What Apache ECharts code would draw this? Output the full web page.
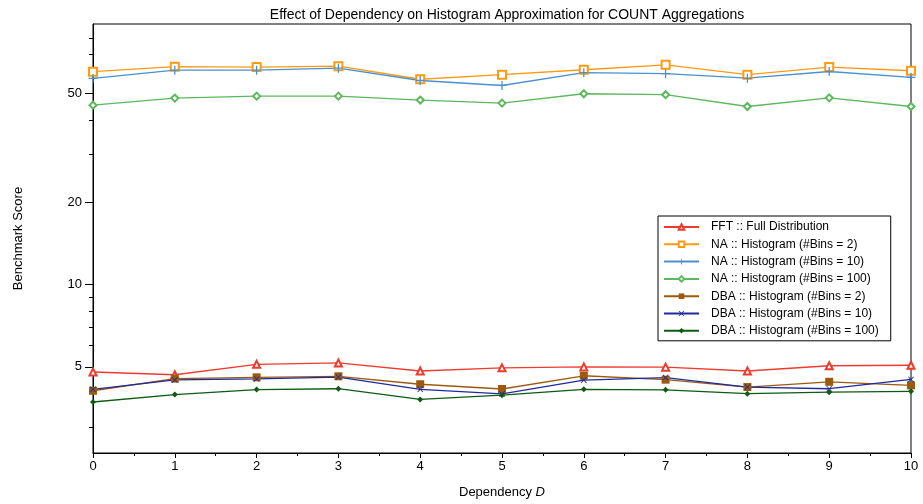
<!DOCTYPE html>
<html>
<head>
<meta charset="utf-8">
<script src="https://cdn.jsdelivr.net/npm/echarts@6/dist/echarts.min.js"></script>
<style>
html,body{margin:0;padding:0;background:#fff;}
#chart{width:923px;height:504px;}
</style>
</head>
<body>
<div id="chart"></div>
<script>
const dependency = [0,1,2,3,4,5,6,7,8,9,10];
const seriesNames = [
  'FFT :: Full Distribution',
  'NA :: Histogram (#Bins = 2)',
  'NA :: Histogram (#Bins = 10)',
  'NA :: Histogram (#Bins = 100)',
  'DBA :: Histogram (#Bins = 2)',
  'DBA :: Histogram (#Bins = 10)',
  'DBA :: Histogram (#Bins = 100)'
];
const fftFull   = [4.79,4.68,5.11,5.17,4.83,4.96,5.00,4.99,4.83,5.05,5.07];
const naBins2   = [60.2,62.8,62.6,63.1,56.5,58.7,61.2,63.8,58.7,62.6,60.7];
const naBins10  = [56.9,61.0,61.0,62.0,55.9,53.6,59.7,59.2,57.0,60.3,57.4];
const naBins100 = [45.4,48.2,49.0,49.0,47.4,46.2,50.0,49.6,44.9,48.3,44.9];
const dbaBins2  = [4.09,4.53,4.58,4.62,4.32,4.15,4.64,4.49,4.22,4.41,4.28];
const dbaBins10 = [4.14,4.48,4.52,4.59,4.14,3.98,4.47,4.57,4.22,4.16,4.50];
const dbaBins100= [3.72,3.96,4.13,4.16,3.80,3.94,4.14,4.12,3.99,4.04,4.07];
const yMajorTicks = [5,10,20,50];
const yMinorTicks = [3,4,6,7,8,9,30,40,60,70,80];

const values = [fftFull,naBins2,naBins10,naBins100,dbaBins2,dbaBins10,dbaBins100];
const colors = ['#ee3b2e','#ff9a12','#4a90cf','#5cb85c','#9c5a0e','#1f2a9c','#0d5a12'];
const plus = 'path://M-1,-0.14 L-0.14,-0.14 L-0.14,-1 L0.14,-1 L0.14,-0.14 L1,-0.14 L1,0.14 L0.14,0.14 L0.14,1 L-0.14,1 L-0.14,0.14 L-1,0.14 Z';
const cross = 'path://M-0.8,-1 L0,-0.2 L0.8,-1 L1,-0.8 L0.2,0 L1,0.8 L0.8,1 L0,0.2 L-0.8,1 L-1,0.8 L-0.2,0 L-1,-0.8 Z';
const symbols = ['emptyTriangle','emptyRect',plus,'emptyDiamond','rect',cross,'diamond'];
const sizes = [7,8,9,7,8,6,6];

const font = 'Liberation Sans, Arial, Helvetica, sans-serif';
const chart = echarts.init(document.getElementById('chart'));

const series = seriesNames.map((n,i)=>({
  name:n,
  type:'line',
  yAxisIndex:0,
  data: dependency.map((x,j)=>[x,values[i][j]]),
  symbol: symbols[i],
  symbolSize: sizes[i],
  showAllSymbol:true,
  lineStyle:{color:colors[i],width:1.3},
  itemStyle:{color:colors[i],borderWidth:1.2},
  emphasis:{disabled:true},
  animation:false
}));

chart.setOption({
  animation:false,
  backgroundColor:'#fff',
  title:{
    text:'Effect of Dependency on Histogram Approximation for COUNT Aggregations',
    left:502, top:3, textAlign:'center',
    textStyle:{fontFamily:font,fontSize:14,fontWeight:'normal',color:'#000'}
  },
  legend:{
    orient:'vertical',
    left:658, top:216,
    padding:[5,12,4,5],
    borderColor:'#000', borderWidth:1,
    backgroundColor:'#fff',
    itemWidth:35, itemHeight:7, itemGap:5.3,
    textStyle:{fontFamily:font,fontSize:12,color:'#000',padding:[0,0,0,7]},
    data:seriesNames
  },
  grid:{left:93,right:12,top:24,bottom:50,show:true,borderColor:'#000',borderWidth:1,containLabel:false},
  xAxis:{
    type:'value', min:0, max:10, interval:1,
    name:'Dependency {i|D}', nameLocation:'middle', nameGap:33,
    nameTextStyle:{fontFamily:font,fontSize:13,color:'#000',rich:{i:{fontStyle:'italic',fontFamily:font,fontSize:13,color:'#000'}}},
    axisLine:{lineStyle:{color:'#000',width:1}},
    axisTick:{show:true,inside:false,length:5,lineStyle:{color:'#000'}},
    minorTick:{show:true,splitNumber:2,length:3,lineStyle:{color:'#000'}},
    axisLabel:{fontFamily:font,fontSize:13,color:'#000',margin:7},
    splitLine:{show:false}
  },
  yAxis:[{
    type:'log', min:2.42, max:90, logBase:10,
    name:'Benchmark Score', nameLocation:'middle', nameGap:68,
    nameTextStyle:{fontFamily:font,fontSize:13,color:'#000'},
    axisLine:{show:true,lineStyle:{color:'#000',width:1}},
    axisTick:{show:true,length:8,customValues:yMajorTicks,lineStyle:{color:'#000'}},
    axisLabel:{fontFamily:font,fontSize:13,color:'#000',margin:11,customValues:yMajorTicks},
    splitLine:{show:false}
  },{
    type:'log', min:2.42, max:90, logBase:10, position:'left',
    axisLine:{show:false},
    axisTick:{show:true,length:4,customValues:yMinorTicks,lineStyle:{color:'#000'}},
    axisLabel:{show:false,customValues:yMinorTicks},
    splitLine:{show:false}
  }],
  series:series
});
</script>
</body>
</html>
